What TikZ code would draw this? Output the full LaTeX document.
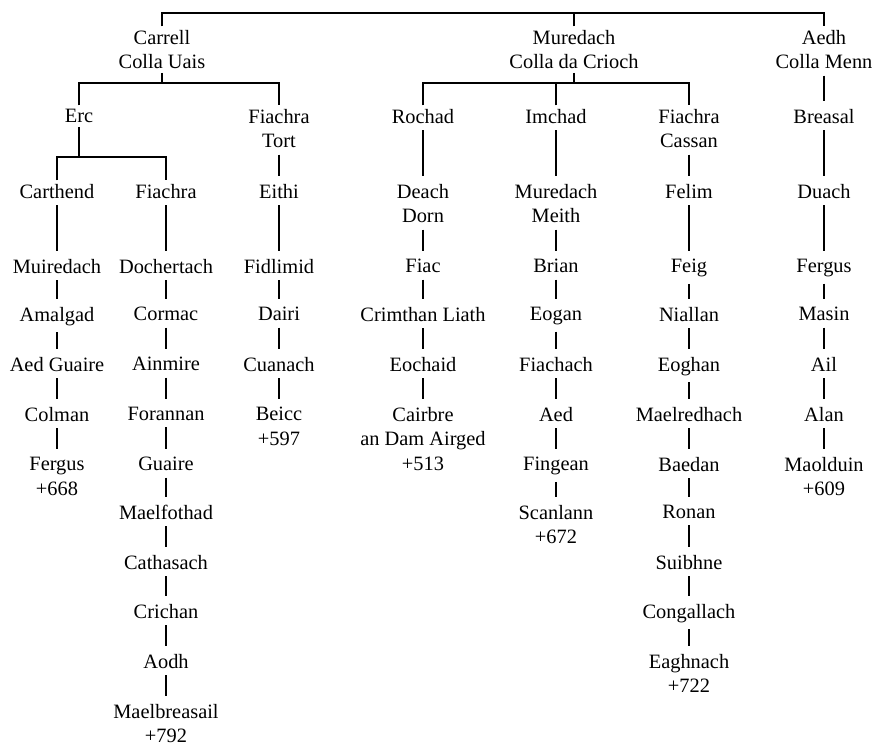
\documentclass[tikz,border=0pt]{standalone}
\usepackage{fontspec}
\setmainfont{Liberation Serif}
\usepackage{tikz}
\usetikzlibrary{calc}

\begin{document}
\begin{tikzpicture}[x=0.02cm, y=-0.02cm,
    person/.style={anchor=north, inner xsep=2pt, inner ysep=0pt, align=center,
                   font=\fontsize{11.6}{13.9}\selectfont},
    link/.style={line width=1.1pt, shorten <=3.5pt, shorten >=4.5pt},
    bar/.style={line width=1.1pt, shorten <=2pt}
  ]
    \useasboundingbox (0,0) rectangle (873,745);

    % the three Collas
    \node[person] (cu)  at (162,30) {Carrell\\Colla Uais};
    \node[person] (cdc) at (574,30) {Muredach\\Colla da Crioch};
    \node[person] (cm)  at (824,30) {Aedh\\Colla Menn};

    \node[person] (erc)   at (79,109)  {Erc};
    \node[person] (fiT)   at (279,109) {Fiachra\\Tort};
    \node[person] (roch)  at (423,109) {Rochad};
    \node[person] (imch)  at (556,109) {Imchad};
    \node[person] (fiC)   at (689,109) {Fiachra\\Cassan};
    \node[person] (breas) at (824,109) {Breasal};

    \node[person] (carth)  at (57,184)  {Carthend};
    \node[person] (fia)    at (166,184) {Fiachra};
    \node[person] (eithi)  at (279,184) {Eithi};
    \node[person] (deach)  at (423,184) {Deach\\Dorn};
    \node[person] (mmeith) at (556,184) {Muredach\\Meith};
    \node[person] (felim)  at (689,184) {Felim};
    \node[person] (duach)  at (824,184) {Duach};

    \node[person] (muir)  at (57,259)  {Muiredach};
    \node[person] (doch)  at (166,259) {Dochertach};
    \node[person] (fidl)  at (279,259) {Fidlimid};
    \node[person] (fiac)  at (423,259) {Fiac};
    \node[person] (brian) at (556,259) {Brian};
    \node[person] (feig)  at (689,259) {Feig};
    \node[person] (fergA) at (824,259) {Fergus};

    \node[person] (amal)   at (57,307)  {Amalgad};
    \node[person] (cormac) at (166,307) {Cormac};
    \node[person] (dairi)  at (279,307) {Dairi};
    \node[person] (crim)   at (423,307) {Crimthan Liath};
    \node[person] (eogan)  at (556,307) {Eogan};
    \node[person] (niall)  at (689,307) {Niallan};
    \node[person] (masin)  at (824,307) {Masin};

    \node[person] (aedg)     at (57,357)  {Aed Guaire};
    \node[person] (ainm)     at (166,357) {Ainmire};
    \node[person] (cuan)     at (279,357) {Cuanach};
    \node[person] (eoch)     at (423,357) {Eochaid};
    \node[person] (fiachach) at (556,357) {Fiachach};
    \node[person] (eoghan)   at (689,357) {Eoghan};
    \node[person] (ail)      at (824,357) {Ail};

    \node[person] (colman) at (57,407)  {Colman};
    \node[person] (foran)  at (166,407) {Forannan};
    \node[person] (beicc)  at (279,407) {Beicc\\+597};
    \node[person] (cairb)  at (423,407) {Cairbre\\an Dam Airged\\+513};
    \node[person] (aed)    at (556,407) {Aed};
    \node[person] (maelr)  at (689,407) {Maelredhach};
    \node[person] (alan)   at (824,407) {Alan};

    \node[person] (fergB)   at (57,457)  {Fergus\\+668};
    \node[person] (guaire)  at (166,457) {Guaire};
    \node[person] (fingean) at (556,457) {Fingean};
    \node[person] (baedan)  at (689,457) {Baedan};
    \node[person] (maold)   at (824,457) {Maolduin\\+609};

    \node[person] (maelf) at (166,505) {Maelfothad};
    \node[person] (scan)  at (556,505) {Scanlann\\+672};
    \node[person] (ronan) at (689,505) {Ronan};

    \node[person] (cath)  at (166,555) {Cathasach};
    \node[person] (suib)  at (689,555) {Suibhne};
    \node[person] (crich) at (166,604) {Crichan};
    \node[person] (cong)  at (689,604) {Congallach};
    \node[person] (aodh)  at (166,654) {Aodh};
    \node[person] (eagh)  at (689,654) {Eaghnach\\+722};
    \node[person] (maelb) at (166,704) {Maelbreasail\\+792};

    % brackets
    \coordinate (top) at (574,13);
    \draw[bar, shorten >=2pt] (cu.north) |- (top) -| (cm.north);
    \draw[bar] (cdc.north) -- (top);

    \coordinate (b1) at (162,83);
    \draw[bar] (cu.south) -- (b1);
    \draw[bar, shorten >=2pt] (erc.north) |- (b1) -| (fiT.north);

    \coordinate (b2) at (574,83);
    \draw[bar] (cdc.south) -- (b2);
    \draw[bar, shorten >=2pt] (roch.north) |- (b2) -| (fiC.north);
    \draw[bar] (imch.north) -- (imch.north |- b2);

    \coordinate (b3) at (79,157);
    \draw[bar] (erc.south) -- (b3);
    \draw[bar, shorten >=2pt] (carth.north) |- (b3) -| (fia.north);

    % lines of descent
    \foreach \a/\b in {cm/breas, fiT/eithi, breas/duach, roch/deach, imch/mmeith, fiC/felim,
                       carth/muir, fia/doch, eithi/fidl, deach/fiac, mmeith/brian, felim/feig, duach/fergA,
                       muir/amal, amal/aedg, aedg/colman, colman/fergB,
                       doch/cormac, cormac/ainm, ainm/foran, foran/guaire, guaire/maelf,
                       maelf/cath, cath/crich, crich/aodh, aodh/maelb,
                       fidl/dairi, dairi/cuan, cuan/beicc,
                       fiac/crim, crim/eoch, eoch/cairb,
                       brian/eogan, eogan/fiachach, fiachach/aed, aed/fingean, fingean/scan,
                       feig/niall, niall/eoghan, eoghan/maelr, maelr/baedan, baedan/ronan,
                       ronan/suib, suib/cong, cong/eagh,
                       fergA/masin, masin/ail, ail/alan, alan/maold}
      \draw[link] (\a) -- (\b);
  \end{tikzpicture}
\end{document}
